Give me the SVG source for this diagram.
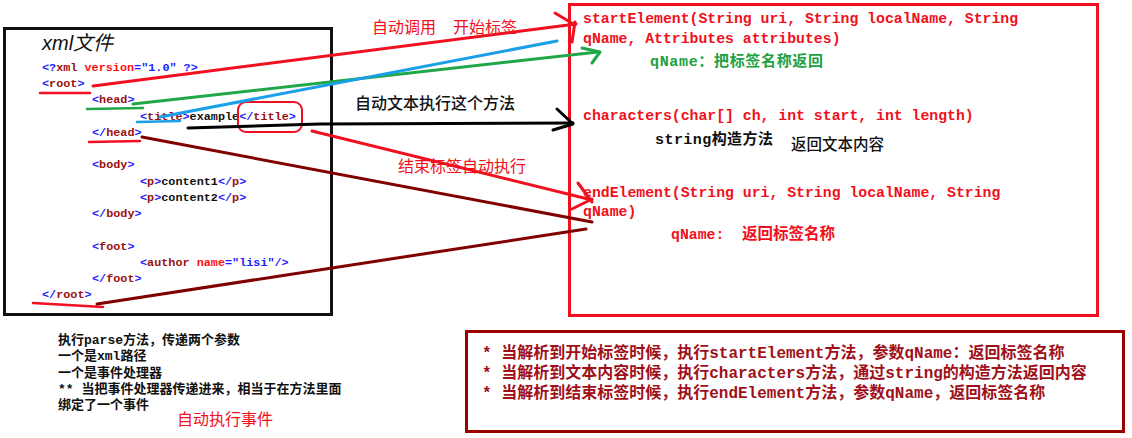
<svg xmlns="http://www.w3.org/2000/svg" width="1132" height="438" viewBox="0 0 1132 438">
<style>
.x{font-family:"Liberation Mono","Noto Sans CJK SC",monospace;font-size:11.8px;font-weight:bold}
.b{fill:#1c1cff}.t{fill:#9a1010}.a{fill:#ff1010}.k{fill:#111}
.m{font-family:"Liberation Mono","Noto Sans CJK SC",monospace;font-weight:bold}
.cjk{font-family:"Noto Sans CJK SC","Liberation Sans",sans-serif}
.red{fill:#f01020}.blk{fill:#111}.grn{fill:#20a040}.mar{fill:#a0101a}
.ln{fill:none;stroke-width:3;stroke-linecap:round;stroke-linejoin:round}
.ul{fill:none;stroke-width:2.5;stroke-linecap:round}
.sr{stroke:#f01020}.sg{stroke:#20a848}.sb{stroke:#1aa0e8}.sk{stroke:#000}.sm{stroke:#800000}
</style>
<rect width="1132" height="438" fill="#fff"/>

<g id="xml-file">
<rect x="4.5" y="28.5" width="327" height="286" fill="none" stroke="#111" stroke-width="3"/>
<text x="42" y="50" font-family="Liberation Sans,Noto Sans CJK SC,sans-serif" font-style="italic" font-size="20" fill="#111">xml文件</text>
<text class="x" x="42" y="71"><tspan class="b">&lt;?</tspan><tspan class="t">xml</tspan><tspan class="a"> version</tspan><tspan class="b">="1.0" ?&gt;</tspan></text>
<text class="x" x="42" y="87"><tspan class="b">&lt;</tspan><tspan class="t">root</tspan><tspan class="b">&gt;</tspan></text>
<text class="x" x="92" y="103"><tspan class="b">&lt;</tspan><tspan class="t">head</tspan><tspan class="b">&gt;</tspan></text>
<text class="x" x="140" y="120"><tspan class="b">&lt;</tspan><tspan class="t">title</tspan><tspan class="b">&gt;</tspan><tspan class="k">example</tspan><tspan class="b">&lt;/</tspan><tspan class="t">title</tspan><tspan class="b">&gt;</tspan></text>
<text class="x" x="92" y="136"><tspan class="b">&lt;/</tspan><tspan class="t">head</tspan><tspan class="b">&gt;</tspan></text>
<text class="x" x="92" y="168"><tspan class="b">&lt;</tspan><tspan class="t">body</tspan><tspan class="b">&gt;</tspan></text>
<text class="x" x="140" y="185"><tspan class="b">&lt;</tspan><tspan class="t">p</tspan><tspan class="b">&gt;</tspan><tspan class="k">content1</tspan><tspan class="b">&lt;/</tspan><tspan class="t">p</tspan><tspan class="b">&gt;</tspan></text>
<text class="x" x="140" y="201"><tspan class="b">&lt;</tspan><tspan class="t">p</tspan><tspan class="b">&gt;</tspan><tspan class="k">content2</tspan><tspan class="b">&lt;/</tspan><tspan class="t">p</tspan><tspan class="b">&gt;</tspan></text>
<text class="x" x="92" y="217"><tspan class="b">&lt;/</tspan><tspan class="t">body</tspan><tspan class="b">&gt;</tspan></text>
<text class="x" x="92" y="250"><tspan class="b">&lt;</tspan><tspan class="t">foot</tspan><tspan class="b">&gt;</tspan></text>
<text class="x" x="140" y="266"><tspan class="b">&lt;</tspan><tspan class="t">author</tspan><tspan class="a"> name</tspan><tspan class="b">="lisi"/&gt;</tspan></text>
<text class="x" x="92" y="282"><tspan class="b">&lt;/</tspan><tspan class="t">foot</tspan><tspan class="b">&gt;</tspan></text>
<text class="x" x="42" y="298"><tspan class="b">&lt;/</tspan><tspan class="t">root</tspan><tspan class="b">&gt;</tspan></text>
<rect x="238" y="102" width="64" height="30" rx="8" fill="none" stroke="#f01020" stroke-width="2"/>
</g>

<g id="parse-notes">
<text class="m blk" font-size="13" x="58" y="344">执行parse方法，传递两个参数</text>
<text class="m blk" font-size="13" x="58" y="360">一个是xml路径</text>
<text class="m blk" font-size="13" x="58" y="377">一个是事件处理器</text>
<text class="m blk" font-size="13" x="58" y="393">** 当把事件处理器传递进来，相当于在方法里面</text>
<text class="m blk" font-size="13" x="58" y="409">绑定了一个事件</text>
<text class="cjk red" font-size="16" x="177" y="425">自动执行事件</text>
</g>

<g id="handler-methods">
<rect x="569.5" y="4.5" width="528" height="311" fill="none" stroke="#f01020" stroke-width="3"/>
<text class="m red" font-size="14.8" x="583" y="23">startElement(String uri, String localName, String</text>
<text class="m red" font-size="14.8" x="583" y="43">qName, Attributes attributes)</text>
<text class="m grn" font-size="15" x="650" y="66" textLength="173" lengthAdjust="spacing">qName：把标签名称返回</text>
<text class="m red" font-size="14.8" x="583" y="120">characters(char[] ch, int start, int length)</text>
<text class="m blk" font-size="15" x="655" y="144" textLength="118" lengthAdjust="spacing">string构造方法</text>
<text class="cjk blk" font-size="15.5" font-weight="500" x="791" y="150">返回文本内容</text>
<text class="m red" font-size="14.8" x="583" y="197">endElement(String uri, String localName, String</text>
<text class="m red" font-size="14.8" x="583" y="216">qName)</text>
<text class="m red" font-size="14.8" x="671" y="239">qName:</text>
<text class="m red" font-size="15.5" x="742" y="239">返回标签名称</text>
</g>

<g id="summary">
<rect x="466.5" y="331.5" width="657" height="100" fill="none" stroke="#990000" stroke-width="3"/>
<text class="m mar" font-size="16" x="482" y="358">* 当解析到开始标签时候，执行startElement方法，参数qName：返回标签名称</text>
<text class="m mar" font-size="16" x="482" y="378">* 当解析到文本内容时候，执行characters方法，通过string的构造方法返回内容</text>
<text class="m mar" font-size="16" x="482" y="398">* 当解析到结束标签时候，执行endElement方法，参数qName，返回标签名称</text>
</g>

<g id="labels">
<text class="cjk red" font-size="16" x="372" y="33">自动调用</text>
<text class="cjk red" font-size="16" x="453" y="33">开始标签</text>
<text class="cjk blk" font-size="16" font-weight="500" x="355" y="109">自动文本执行这个方法</text>
<text class="cjk red" font-size="16" x="398" y="172">结束标签自动执行</text>
</g>

<g id="connectors">
<path class="ul sr" d="M40 93 L90 93"/>
<path class="ul sg" d="M87 109 L143 108"/>
<path class="ul sb" d="M137 122 L180 121"/>
<path class="ul sr" d="M89 142 L140 141"/>
<path class="ul sr" d="M33 303 L103 307"/>
<path class="ln sr" d="M93 86 L576 24"/>
<path class="ln sr" d="M555 13 L575 25 M572 42 L575 22"/>
<path class="ln sg" d="M133 104 L598 52"/>
<path class="ln sg" d="M582 48 L600 52 L592 63"/>
<path class="ln sb" d="M160 117 L557 41"/>
<path class="ln sk" d="M188 128 L320 124 L573 123"/>
<path class="ln sk" d="M557 109 L573 124 L553 130"/>
<path class="ln sr" d="M312 131 L592 200"/>
<path class="ln sr" d="M578 183 L592 202 M572 209 L592 199"/>
<path class="ln sm" d="M142 137 L592 222"/>
<path class="ln sm" d="M97 304 L586 229"/>
</g>
</svg>
